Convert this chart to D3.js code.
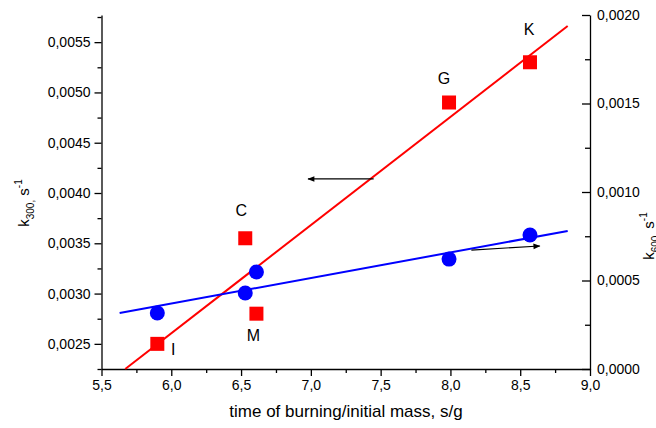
<!DOCTYPE html>
<html>
<head>
<meta charset="utf-8">
<script src="https://cdn.jsdelivr.net/npm/d3@7"></script>
<style>
  body { margin: 0; background: #fff; }
  svg { font-family: "Liberation Sans", Arial, sans-serif; }
  .axis path, .axis line { stroke: #000; stroke-width: 1.3; }
  .axis text { font-size: 14px; fill: #000; }
</style>
</head>
<body>
<div id="chart"></div>
<script>
// samples: time of burning / initial mass
let samples = ['I', 'C', 'M', 'G', 'K'];
let massX = [5.9, 6.53, 6.61, 7.99, 8.57];
let k300 = [0.0025, 0.00355, 0.0028, 0.0049, 0.0053];      // left axis, red squares
let k600 = [0.000316, 0.000429, 0.000548, 0.000621, 0.000757]; // right axis, blue circles

// fitted lines (end points)
let redFitX = [5.67, 8.84];
let redFitY = [0.00225, 0.00566];
let blueFitX = [5.63, 8.84];
let blueFitY = [0.000316, 0.00078];

// arrows pointing to their axis
let arrowLeft = {x: [7.45, 6.98], y: [0.00414, 0.00414]};
let arrowRight = {x: [8.15, 8.64], y: [0.000672, 0.000695]};

let xTicks = [5.5, 6.0, 6.5, 7.0, 7.5, 8.0, 8.5, 9.0];
let leftTicks = [0.0025, 0.0030, 0.0035, 0.0040, 0.0045, 0.0050, 0.0055];
let rightTicks = [0.0000, 0.0005, 0.0010, 0.0015, 0.0020];

let size = {width: 656, height: 428};
let margins = {top: 15, right: 66, bottom: 59, left: 101.5};

let svg = d3.select('#chart').append('svg')
  .attr('width', size.width)
  .attr('height', size.height);

let x = d3.scaleLinear().domain([5.5, 9.0]).range([margins.left, size.width - margins.right]);
let yL = d3.scaleLinear().domain([0.00225, 0.00577]).range([size.height - margins.bottom, margins.top]);
let yR = d3.scaleLinear().domain([0, 0.002]).range([size.height - margins.bottom, margins.top]);

let comma = d => d3.format('.1f')(d).replace('.', ',');
let comma4 = d => d3.format('.4f')(d).replace('.', ',');

let bottomY = size.height - margins.bottom;
let rightX = size.width - margins.right;

// minor ticks
let xMinor = d3.range(5.75, 9.0, 0.5);
svg.append('g').attr('class', 'axis')
  .attr('transform', `translate(0,${bottomY})`)
  .call(d3.axisBottom(x).tickValues(xMinor).tickSize(4).tickFormat(''))
  .call(g => g.select('.domain').remove());
let lMinor = [0.00225, 0.00275, 0.00325, 0.00375, 0.00425, 0.00475, 0.00525, 0.00575];
svg.append('g').attr('class', 'axis')
  .attr('transform', `translate(${margins.left},0)`)
  .call(d3.axisLeft(yL).tickValues(lMinor).tickSize(4).tickFormat(''))
  .call(g => g.select('.domain').remove());
let rMinor = [0.00025, 0.00075, 0.00125, 0.00175];
svg.append('g').attr('class', 'axis')
  .attr('transform', `translate(${rightX},0)`)
  .call(d3.axisLeft(yR).tickValues(rMinor).tickSize(5).tickFormat(''))
  .call(g => g.select('.domain').remove());

// major axes
svg.append('g').attr('class', 'axis')
  .attr('transform', `translate(0,${bottomY})`)
  .call(d3.axisBottom(x).tickValues(xTicks).tickSize(7).tickPadding(4).tickSizeOuter(0).tickFormat(comma));
svg.append('g').attr('class', 'axis')
  .attr('transform', `translate(${margins.left},0)`)
  .call(d3.axisLeft(yL).tickValues(leftTicks).tickSize(7).tickPadding(4).tickSizeOuter(0).tickFormat(comma4));
svg.append('g').attr('class', 'axis')
  .attr('transform', `translate(${rightX},0)`)
  .call(d3.axisRight(yR).tickValues(rightTicks).tickSize(-8).tickPadding(7).tickSizeOuter(0).tickFormat(comma4));

// fit lines
let line = d3.line();
svg.append('path')
  .attr('d', line(redFitX.map((v, i) => [x(v), yL(redFitY[i])])))
  .attr('stroke', '#ff0000').attr('stroke-width', 2).attr('fill', 'none');
svg.append('path')
  .attr('d', line(blueFitX.map((v, i) => [x(v), yR(blueFitY[i])])))
  .attr('stroke', '#0000ff').attr('stroke-width', 2).attr('fill', 'none');

// points
let sq = 14;
svg.selectAll('rect.pt').data(massX).enter().append('rect')
  .attr('class', 'pt')
  .attr('x', d => x(d) - sq / 2)
  .attr('y', (d, i) => yL(k300[i]) - sq / 2)
  .attr('width', sq).attr('height', sq)
  .attr('fill', '#ff0000');
svg.selectAll('circle.pt').data(massX).enter().append('circle')
  .attr('class', 'pt')
  .attr('cx', d => x(d))
  .attr('cy', (d, i) => yR(k600[i]))
  .attr('r', 7.5)
  .attr('fill', '#0000ff');

// sample labels
let labelOff = [[16, 7], [-4, -26], [-3, 23], [-5, -23], [-1, -31]];
svg.selectAll('text.lbl').data(samples).enter().append('text')
  .attr('class', 'lbl')
  .attr('x', (d, i) => x(massX[i]) + labelOff[i][0])
  .attr('y', (d, i) => yL(k300[i]) + labelOff[i][1])
  .attr('text-anchor', 'middle')
  .attr('dominant-baseline', 'middle')
  .attr('font-size', 16)
  .text(d => d);

// arrows
svg.append('defs').append('marker')
  .attr('id', 'ah').attr('viewBox', '0 0 10 10')
  .attr('refX', 9).attr('refY', 5)
  .attr('markerWidth', 9).attr('markerHeight', 7)
  .attr('markerUnits', 'userSpaceOnUse')
  .attr('orient', 'auto')
  .append('path').attr('d', 'M0,1 L10,5 L0,9 Z').attr('fill', '#000');
svg.append('path')
  .attr('d', line(arrowLeft.x.map((v, i) => [x(v), yL(arrowLeft.y[i])])))
  .attr('stroke', '#000').attr('stroke-width', 1.2).attr('marker-end', 'url(#ah)');
svg.append('path')
  .attr('d', line(arrowRight.x.map((v, i) => [x(v), yR(arrowRight.y[i])])))
  .attr('stroke', '#000').attr('stroke-width', 1.2).attr('marker-end', 'url(#ah)');

// axis titles
svg.append('text')
  .attr('x', 346).attr('y', 417)
  .attr('text-anchor', 'middle').attr('font-size', 17)
  .text('time of burning/initial mass, s/g');

let lt = svg.append('text')
  .attr('transform', 'translate(29,203) rotate(-90)')
  .attr('text-anchor', 'middle').attr('font-size', 15);
lt.append('tspan').text('k');
lt.append('tspan').attr('font-size', 10).attr('dy', 5).text('300,');
lt.append('tspan').attr('dy', -5).text(' s');
lt.append('tspan').attr('font-size', 10).attr('dy', -7).text('-1');

let rt = svg.append('text')
  .attr('transform', 'translate(654,236) rotate(-90)')
  .attr('text-anchor', 'middle').attr('font-size', 15);
rt.append('tspan').text('k');
rt.append('tspan').attr('font-size', 10).attr('dy', 5).text('600,');
rt.append('tspan').attr('dy', -5).text(' s');
rt.append('tspan').attr('font-size', 10).attr('dy', -7).text('-1');
</script>
</body>
</html>
